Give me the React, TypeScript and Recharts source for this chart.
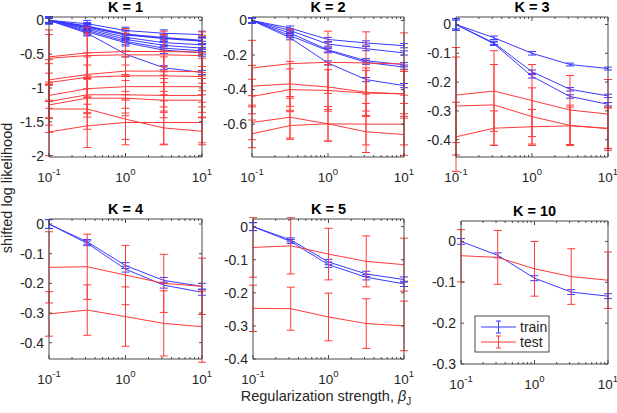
import React from "react"
import { LineChart, Line, XAxis, YAxis, ErrorBar } from "recharts"

const BETA = [0.1, 0.3162, 1, 3.162, 10]
const LOG_TICKS = [0.1, 0.2, 0.3, 0.4, 0.5, 0.6, 0.7, 0.8, 0.9, 1, 2, 3, 4, 5, 6, 7, 8, 9, 10]

// K = 1
const K1_TRAIN = [
  [0, -0.05, -0.15, -0.19, -0.21],
  [0, -0.09, -0.21, -0.26, -0.3],
  [0, -0.11, -0.25, -0.33, -0.36],
  [0, -0.13, -0.28, -0.37, -0.41],
  [0, -0.15, -0.31, -0.41, -0.45],
  [0, -0.17, -0.33, -0.44, -0.48],
  [0, -0.19, -0.5, -0.7, -0.77],
]
const K1_TRAIN_ERR = [
  [0.04, 0.05, 0.05, 0.05, 0.05],
  [0.05, 0.05, 0.06, 0.05, 0.05],
  [0.04, 0.05, 0.05, 0.05, 0.05],
  [0.04, 0.05, 0.05, 0.05, 0.05],
  [0.04, 0.05, 0.05, 0.05, 0.05],
  [0.04, 0.05, 0.05, 0.05, 0.05],
  [0.03, 0.04, 0.04, 0.03, 0.03],
]
const K1_TEST = [
  [-0.54, -0.48, -0.46, -0.46, -0.47],
  [-0.56, -0.52, -0.51, -0.51, -0.52],
  [-0.88, -0.8, -0.75, -0.75, -0.76],
  [-0.92, -0.84, -0.82, -0.82, -0.83],
  [-1.11, -1.01, -0.98, -0.98, -0.98],
  [-1.2, -1.1, -1.1, -1.11, -1.11],
  [-1.25, -1.15, -1.15, -1.18, -1.18],
  [-1.31, -1.31, -1.46, -1.59, -1.64],
  [-1.65, -1.56, -1.51, -1.51, -1.51],
]
const K1_TEST_ERR = [
  [0.4, 0.38, 0.34, 0.3, 0.3],
  [0.35, 0.33, 0.32, 0.3, 0.3],
  [0.3, 0.32, 0.3, 0.3, 0.28],
  [0.28, 0.3, 0.28, 0.28, 0.27],
  [0.33, 0.35, 0.32, 0.3, 0.3],
  [0.25, 0.28, 0.27, 0.25, 0.25],
  [0.3, 0.28, 0.26, 0.26, 0.25],
  [0.35, 0.3, 0.3, 0.25, 0.2],
  [0.35, 0.32, 0.33, 0.32, 0.3],
]
const K1_Y_TICKS = [-2, -1.5, -1, -0.5, 0]
const K1_Y_DOMAIN = [-2.02, 0.05]

// K = 2
const K2_TRAIN = [
  [0, -0.044, -0.11, -0.13, -0.146],
  [0, -0.058, -0.137, -0.163, -0.188],
  [0, -0.073, -0.17, -0.233, -0.256],
  [0, -0.088, -0.175, -0.242, -0.27],
  [0, -0.1, -0.246, -0.342, -0.377],
]
const K2_TRAIN_ERR = [
  [0.015, 0.012, 0.012, 0.012, 0.012],
  [0.015, 0.012, 0.012, 0.012, 0.012],
  [0.015, 0.012, 0.012, 0.012, 0.012],
  [0.015, 0.012, 0.012, 0.012, 0.012],
  [0.015, 0.012, 0.012, 0.012, 0.012],
]
const K2_TEST = [
  [-0.275, -0.25, -0.242, -0.246, -0.252],
  [-0.38, -0.367, -0.385, -0.415, -0.425],
  [-0.44, -0.4, -0.405, -0.42, -0.425],
  [-0.59, -0.56, -0.598, -0.644, -0.66],
  [-0.656, -0.608, -0.598, -0.6, -0.6],
]
const K2_TEST_ERR = [
  [0.16, 0.2, 0.18, 0.18, 0.18],
  [0.12, 0.13, 0.13, 0.14, 0.14],
  [0.1, 0.12, 0.12, 0.13, 0.13],
  [0.1, 0.12, 0.1, 0.12, 0.12],
  [0.08, 0.08, 0.1, 0.12, 0.12],
]
const K2_Y_TICKS = [-0.6, -0.4, -0.2, 0]
const K2_Y_DOMAIN = [-0.79, 0.02]

// K = 3
const K3_TRAIN = [
  [0, -0.046, -0.1, -0.139, -0.153],
  [0, -0.064, -0.164, -0.225, -0.248],
  [0, -0.067, -0.18, -0.25, -0.277],
]
const K3_TRAIN_ERR = [
  [0.02, 0.006, 0.006, 0.005, 0.005],
  [0.02, 0.006, 0.006, 0.006, 0.006],
  [0.015, 0.006, 0.006, 0.006, 0.006],
]
const K3_TEST = [
  [-0.245, -0.231, -0.264, -0.297, -0.311],
  [-0.283, -0.279, -0.32, -0.35, -0.362],
  [-0.39, -0.36, -0.355, -0.352, -0.36],
]
const K3_TEST_ERR = [
  [0.165, 0.14, 0.125, 0.12, 0.12],
  [0.17, 0.14, 0.1, 0.07, 0.075],
  [0.12, 0.06, 0.06, 0.065, 0.07],
]
const K3_Y_TICKS = [-0.4, -0.3, -0.2, -0.1, 0]
const K3_Y_DOMAIN = [-0.46, 0.026]

// K = 4
const K4_TRAIN = [
  [0, -0.06, -0.14, -0.19, -0.21],
  [0, -0.065, -0.152, -0.206, -0.23],
]
const K4_TRAIN_ERR = [
  [0.015, 0.008, 0.01, 0.01, 0.01],
  [0.015, 0.008, 0.01, 0.01, 0.01],
]
const K4_TEST = [
  [-0.146, -0.144, -0.172, -0.2, -0.21],
  [-0.303, -0.29, -0.312, -0.335, -0.346],
]
const K4_TEST_ERR = [
  [0.12, 0.11, 0.1, 0.098, 0.095],
  [0.075, 0.085, 0.1, 0.11, 0.12],
]
const K4_Y_TICKS = [-0.4, -0.3, -0.2, -0.1, 0]
const K4_Y_DOMAIN = [-0.455, 0.017]

// K = 5
const K5_TRAIN = [
  [0, -0.04, -0.107, -0.143, -0.16],
  [0, -0.045, -0.115, -0.153, -0.173],
]
const K5_TRAIN_ERR = [
  [0.012, 0.006, 0.008, 0.008, 0.008],
  [0.012, 0.006, 0.008, 0.008, 0.008],
]
const K5_TEST = [
  [-0.063, -0.058, -0.083, -0.105, -0.115],
  [-0.247, -0.248, -0.273, -0.293, -0.3],
]
const K5_TEST_ERR = [
  [0.09, 0.085, 0.078, 0.077, 0.08],
  [0.07, 0.065, 0.072, 0.075, 0.075],
]
const K5_Y_TICKS = [-0.4, -0.3, -0.2, -0.1, 0]
const K5_Y_DOMAIN = [-0.4, 0.023]

// K = 10
const K10_TRAIN = [[0, -0.034, -0.09, -0.124, -0.134]]
const K10_TRAIN_ERR = [[0.007, 0.006, 0.006, 0.006, 0.006]]
const K10_TEST = [[-0.035, -0.039, -0.067, -0.086, -0.095]]
const K10_TEST_ERR = [[0.064, 0.066, 0.067, 0.068, 0.069]]
const K10_Y_TICKS = [-0.3, -0.2, -0.1, 0]
const K10_Y_DOMAIN = [-0.3, 0.05]

const PANELS = [
  { title: "K = 1", train: K1_TRAIN, trainErr: K1_TRAIN_ERR, test: K1_TEST, testErr: K1_TEST_ERR, yTicks: K1_Y_TICKS, yDomain: K1_Y_DOMAIN, thick: 1 },
  { title: "K = 2", train: K2_TRAIN, trainErr: K2_TRAIN_ERR, test: K2_TEST, testErr: K2_TEST_ERR, yTicks: K2_Y_TICKS, yDomain: K2_Y_DOMAIN, thick: -1 },
  { title: "K = 3", train: K3_TRAIN, trainErr: K3_TRAIN_ERR, test: K3_TEST, testErr: K3_TEST_ERR, yTicks: K3_Y_TICKS, yDomain: K3_Y_DOMAIN, thick: -1 },
  { title: "K = 4", train: K4_TRAIN, trainErr: K4_TRAIN_ERR, test: K4_TEST, testErr: K4_TEST_ERR, yTicks: K4_Y_TICKS, yDomain: K4_Y_DOMAIN, thick: -1 },
  { title: "K = 5", train: K5_TRAIN, trainErr: K5_TRAIN_ERR, test: K5_TEST, testErr: K5_TEST_ERR, yTicks: K5_Y_TICKS, yDomain: K5_Y_DOMAIN, thick: -1 },
  { title: "K = 10", train: K10_TRAIN, trainErr: K10_TRAIN_ERR, test: K10_TEST, testErr: K10_TEST_ERR, yTicks: K10_Y_TICKS, yDomain: K10_Y_DOMAIN, thick: -1 },
]

// plot-area boxes in page pixels
const LAYOUT = [
  { left: 49, right: 202, top: 17, bottom: 157, titleY: 12 },
  { left: 252, right: 404, top: 17, bottom: 157, titleY: 12 },
  { left: 456, right: 608, top: 17, bottom: 157, titleY: 12 },
  { left: 49, right: 202, top: 219, bottom: 359, titleY: 214 },
  { left: 253, right: 404, top: 219, bottom: 359, titleY: 214 },
  { left: 461, right: 608, top: 221, bottom: 364, titleY: 216 },
]

const W = 617
const H = 413
const FONT = "'Liberation Sans', Arial, Helvetica, sans-serif"
const AXIS = "#4a4a4a"
const TEXT = "#262626"
const BLUE = "#3a3aff"
const RED = "#ff3a3a"

const isDecade = (v: number) => Math.abs(Math.log10(v) - Math.round(Math.log10(v))) < 1e-6

const BottomTick = (props: any) => {
  const { x, y, payload } = props
  const v = payload.value
  const major = isDecade(v)
  return (
    <g>
      <line x1={x} y1={y} x2={x} y2={y - (major ? 4 : 2)} stroke={AXIS} />
      {major && (
        <text x={x} y={y + 25} textAnchor="middle" fontSize={13.5} fill={TEXT} fontFamily={FONT}>
          <tspan>10</tspan>
          <tspan dy={-7} fontSize={9.5}>{Math.round(Math.log10(v))}</tspan>
        </text>
      )}
    </g>
  )
}

const TopTick = (props: any) => {
  const { x, y, payload } = props
  const major = isDecade(payload.value)
  return <line x1={x} y1={y} x2={x} y2={y + (major ? 4 : 2)} stroke={AXIS} />
}

const LeftTick = (props: any) => {
  const { x, y, payload } = props
  return (
    <g>
      <line x1={x} y1={y} x2={x + 3} y2={y} stroke={AXIS} />
      <text x={x - 5} y={y} dy="0.35em" textAnchor="end" fontSize={14} fill={TEXT} fontFamily={FONT}>
        {String(payload.value)}
      </text>
    </g>
  )
}

const RightTick = (props: any) => {
  const { x, y } = props
  return <line x1={x} y1={y} x2={x - 3} y2={y} stroke={AXIS} />
}

function buildRows(p: any) {
  return BETA.map((b, i) => {
    const row: any = { beta: b }
    p.train.forEach((s: number[], j: number) => {
      row[`tr${j}`] = s[i]
      row[`tre${j}`] = p.trainErr[j][i]
    })
    p.test.forEach((s: number[], j: number) => {
      row[`te${j}`] = s[i]
      row[`tee${j}`] = p.testErr[j][i]
    })
    return row
  })
}

function Panel({ p, box }: any) {
  const data = buildRows(p)
  const xAxisH = 30
  const yAxisW = 40
  const margin = {
    top: box.top - 1,
    left: box.left - yAxisW,
    right: W - box.right - 1,
    bottom: H - box.bottom - xAxisH,
  }
  return (
    <div style={{ position: "absolute", left: 0, top: 0 }}>
      <LineChart width={W} height={H} data={data} margin={margin}>
        <XAxis
          dataKey="beta"
          type="number"
          scale="log"
          domain={[0.1, 10]}
          ticks={LOG_TICKS}
          interval={0}
          allowDataOverflow
          height={xAxisH}
          tickSize={0}
          tickMargin={0}
          tickLine={false}
          axisLine={{ stroke: AXIS }}
          tick={(t: any) => <BottomTick {...t} />}
        />
        <XAxis
          xAxisId="top"
          dataKey="beta"
          orientation="top"
          type="number"
          scale="log"
          domain={[0.1, 10]}
          ticks={LOG_TICKS}
          interval={0}
          allowDataOverflow
          height={1}
          tickSize={0}
          tickMargin={0}
          tickLine={false}
          axisLine={{ stroke: AXIS }}
          tick={(t: any) => <TopTick {...t} />}
        />
        <YAxis
          type="number"
          domain={p.yDomain}
          ticks={p.yTicks}
          interval={0}
          allowDataOverflow
          width={yAxisW}
          tickSize={0}
          tickMargin={0}
          tickLine={false}
          axisLine={{ stroke: AXIS }}
          tick={(t: any) => <LeftTick {...t} />}
        />
        <YAxis
          yAxisId="right"
          orientation="right"
          type="number"
          domain={p.yDomain}
          ticks={p.yTicks}
          interval={0}
          allowDataOverflow
          width={1}
          tickSize={0}
          tickMargin={0}
          tickLine={false}
          axisLine={{ stroke: AXIS }}
          tick={(t: any) => <RightTick {...t} />}
        />
        {/* invisible series that binds the top and right box axes */}
        <Line xAxisId="top" yAxisId="right" dataKey="tr0" stroke="none" dot={false} activeDot={false} isAnimationActive={false} />
        {p.train.map((_: number[], j: number) => (
          <Line
            key={`tr${j}`}
            dataKey={`tr${j}`}
            stroke={BLUE}
            strokeWidth={j === p.thick ? 2 : 1}
            dot={false}
            isAnimationActive={false}
          >
            <ErrorBar dataKey={`tre${j}`} direction="y" width={4} stroke={BLUE} strokeWidth={j === p.thick ? 2 : 1} />
          </Line>
        ))}
        {p.test.map((_: number[], j: number) => (
          <Line
            key={`te${j}`}
            dataKey={`te${j}`}
            stroke={RED}
            strokeWidth={1}
            dot={false}
            isAnimationActive={false}
          >
            <ErrorBar dataKey={`tee${j}`} direction="y" width={4} stroke={RED} strokeWidth={1} />
          </Line>
        ))}
      </LineChart>
    </div>
  )
}

export default function App() {
  return (
    <div style={{ position: "absolute", left: 0, top: 0, width: W, height: H, background: "#fff", fontFamily: FONT }}>
      {PANELS.map((p, i) => (
        <Panel key={p.title} p={p} box={LAYOUT[i]} />
      ))}
      <svg width={W} height={H} style={{ position: "absolute", left: 0, top: 0, pointerEvents: "none" }}>
        {PANELS.map((p, i) => (
          <text
            key={p.title}
            x={(LAYOUT[i].left + LAYOUT[i].right) / 2}
            y={LAYOUT[i].titleY}
            textAnchor="middle"
            fontSize={14.5}
            fontWeight="bold"
            fill="#000"
            fontFamily={FONT}
          >
            {p.title}
          </text>
        ))}
        <text transform="rotate(-90)" x={-188} y={12} textAnchor="middle" fontSize={14.5} fill={TEXT} fontFamily={FONT}>
          shifted log likelihood
        </text>
        <text x={326} y={401} textAnchor="middle" fontSize={14.5} fill={TEXT} fontFamily={FONT}>
          Regularization strength, <tspan fontStyle="italic">β</tspan>
          <tspan dy={4} fontSize={10}>J</tspan>
        </text>
        {/* legend */}
        <rect x={475} y={316} width={74} height={36} fill="#fff" stroke={AXIS} />
        <line x1={481} y1={327} x2={516} y2={327} stroke={BLUE} />
        <line x1={498.5} y1={321} x2={498.5} y2={333} stroke={BLUE} />
        <line x1={496} y1={321} x2={501} y2={321} stroke={BLUE} />
        <line x1={496} y1={333} x2={501} y2={333} stroke={BLUE} />
        <text x={520} y={332} fontSize={14} fill={TEXT} fontFamily={FONT}>train</text>
        <line x1={481} y1={342} x2={516} y2={342} stroke={RED} />
        <line x1={498.5} y1={336} x2={498.5} y2={348} stroke={RED} />
        <line x1={496} y1={336} x2={501} y2={336} stroke={RED} />
        <line x1={496} y1={348} x2={501} y2={348} stroke={RED} />
        <text x={520} y={347} fontSize={14} fill={TEXT} fontFamily={FONT}>test</text>
      </svg>
    </div>
  )
}
